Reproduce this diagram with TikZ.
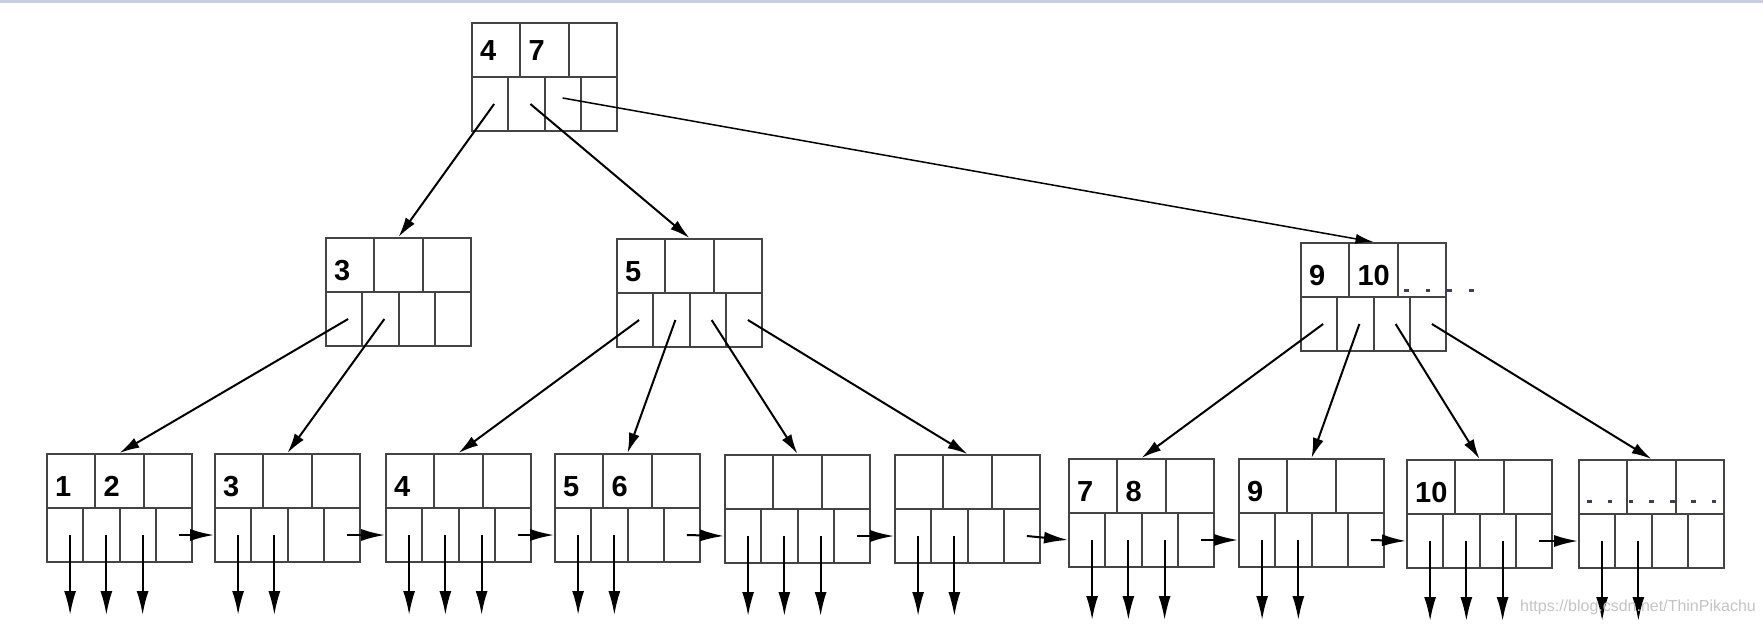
\documentclass[tikz,border=0pt]{standalone}
\usepackage{fontspec}
\setmainfont{Liberation Sans}
\usetikzlibrary{arrows.meta,positioning}
\definecolor{cellline}{HTML}{444444}
\definecolor{topband}{HTML}{C6CFDF}
\definecolor{dotgray}{HTML}{3A3F55}
\definecolor{markgray}{HTML}{C4C4C4}
\tikzset{
  key base/.store in=\keybase, key base=42,
  keycell/.style={
    rectangle, draw=cellline, line width=2pt,
    minimum width=48.33pt, minimum height=54pt, inner sep=0pt
  },
  ptrcell/.style={keycell, minimum width=36.25pt},
  keytext/.style={anchor=base west, inner sep=0pt, font=\fontsize{29}{32}\selectfont\bfseries},
  treearrow/.style={-{Latex[length=20pt,width=11pt]}, line width=2pt},
  longarrow/.style={-{Latex[length=18pt,width=10pt]}, line width=1.5pt},
  leafarrow/.style={-{Latex[length=24pt,width=12pt]}, line width=2pt},
  pics/bpnode/.style n args={3}{code={
    \node[keycell] (-k1) at (24.17,27) {};
    \node[keycell] (-k2) at (72.5,27) {};
    \node[keycell] (-k3) at (120.83,27) {};
    \foreach \j in {1,...,4}{
      \node[ptrcell] (-p\j) at ({(\j-0.5)*36.25},81) {};
      \coordinate (-d\j) at ({(\j-0.5)*36.25+5},161);
    }
    \node[keytext] at (8,\keybase) {#1};
    \node[keytext] at (56.33,\keybase) {#2};
    \node[keytext] at (104.67,\keybase) {#3};
  }},
}

\begin{document}
\begin{tikzpicture}[x=1pt,y=-1pt]
  \useasboundingbox (0,0) rectangle (1763,624);
  \fill[topband] (0,0) rectangle (1763,2.5);

  % inner levels
  \pic[key base=37] (r) at (472,23) {bpnode={4}{7}{}};
  \pic (n3) at (326,238) {bpnode={3}{}{}};
  \pic (n5) at (617,239) {bpnode={5}{}{}};
  \pic (n9) at (1301,243) {bpnode={9}{10}{}};

  % leaf level
  \pic (L1) at (47,454) {bpnode={1}{2}{}};
  \pic (L2) at (215,454) {bpnode={3}{}{}};
  \pic (L3) at (386,454) {bpnode={4}{}{}};
  \pic (L4) at (555,454) {bpnode={5}{6}{}};
  \pic (L5) at (725,455) {bpnode={}{}{}};
  \pic (L6) at (895,455) {bpnode={}{}{}};
  \pic (L7) at (1069,459) {bpnode={7}{8}{}};
  \pic (L8) at (1239,459) {bpnode={9}{}{}};
  \pic (L9) at (1407,460) {bpnode={10}{}{}};
  \pic (L10) at (1579,460) {bpnode={}{}{}};

  % dotted continuation marks
  \foreach \i in {0,...,3}
    \fill[dotgray] ([xshift=\i*21.7pt+104pt, yshift=6pt]n9-k1.south west) rectangle ++(4.5,-3.5);
  \foreach \i in {0,...,6}
    \fill[dotgray] ([xshift=\i*20.8pt+9pt, yshift=12pt]L10-k1.south west) rectangle ++(4.5,-3.5);

  % tree pointers
  \draw[treearrow] ([xshift=4pt]r-p1.center) -- (n3-k2.north);
  \draw[treearrow] ([xshift=4pt]r-p2.center) -- (n5-k2.north);
  \draw[longarrow] ([yshift=6pt]r-p3.center) -- (n9-k2.north);
  \draw[treearrow] ([xshift=4pt]n3-p1.center) -- (L1-k2.north);
  \draw[treearrow] ([xshift=4pt]n3-p2.center) -- (L2-k2.north);
  \draw[treearrow] ([xshift=4pt]n5-p1.center) -- (L3-k2.north);
  \draw[treearrow] ([xshift=4pt]n5-p2.center) -- (L4-k2.north);
  \draw[treearrow] ([xshift=4pt]n5-p3.center) -- (L5-k2.north);
  \draw[treearrow] ([xshift=4pt]n5-p4.center) -- (L6-k2.north);
  \draw[treearrow] ([xshift=4pt]n9-p1.center) -- (L7-k2.north);
  \draw[treearrow] ([xshift=4pt]n9-p2.center) -- (L8-k2.north);
  \draw[treearrow] ([xshift=4pt]n9-p3.center) -- (L9-k2.north);
  \draw[treearrow] ([xshift=4pt]n9-p4.center) -- (L10-k2.north);

  % record pointers
  \foreach \l/\n in {L1/3,L2/2,L3/3,L4/2,L5/3,L6/2,L7/3,L8/2,L9/3,L10/2}
    \foreach \j in {1,...,\n}
      \draw[leafarrow] ([xshift=5pt]\l-p\j.center) -- (\l-d\j);

  % sibling links
  \foreach \a/\b in {L1/L2,L2/L3,L3/L4,L4/L5,L5/L6,L6/L7,L7/L8,L8/L9,L9/L10}
    \draw[leafarrow] ([xshift=5pt]\a-p4.center) -- (\b-p1.west);

  \node[anchor=base east, inner sep=0pt, text=markgray, font=\fontsize{16}{18}\selectfont]
    (mark) at (1756,611) {https://blog.csdn.net/ThinPikachu};
\end{tikzpicture}
\end{document}
